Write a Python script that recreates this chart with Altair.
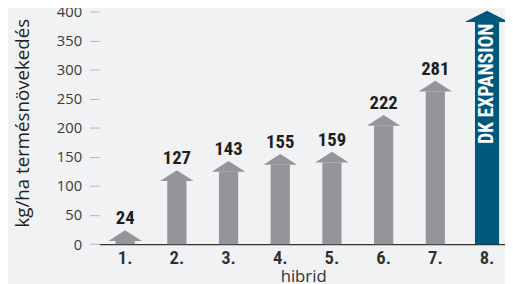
import altair as alt
import pandas as pd

hybrids = ["1.", "2.", "3.", "4.", "5.", "6.", "7.", "8."]
values = [24, 127, 143, 155, 159, 222, 281, 401]
kinds = ["gray", "gray", "gray", "gray", "gray", "gray", "gray", "dk"]
inner = ["", "", "", "", "", "", "", "DK EXPANSION"]
y_ticks = [0, 50, 100, 150, 200, 250, 300, 350, 400]

df = pd.DataFrame({"hibrid": hybrids, "v": values, "kind": kinds, "inner": inner})

NARROW = "Roboto Condensed, Liberation Sans Narrow, Roboto, sans-serif"
SANS = "Open Sans, Lato, sans-serif"
GRAY = "#939598"
DK = "#00587d"

x = alt.X(
    "hibrid:N",
    sort=hybrids,
    scale=alt.Scale(range=[0, 420], paddingInner=0, paddingOuter=0),
    axis=alt.Axis(
        title="hibrid",
        labelAngle=0,
        ticks=False,
        domainColor="#333333",
        domainWidth=1.4,
        labelFont=NARROW,
        labelFontSize=19,
        labelFontWeight=600,
        labelColor="#2e2e2e",
        labelPadding=5,
        titleFont=SANS,
        titleFontSize=17,
        titleFontWeight="normal",
        titleColor="#333333",
        titleX=207,
        titleY=24.5,
        titleBaseline="top",
    ),
)
y = alt.Y(
    "v:Q",
    scale=alt.Scale(domain=[0, 400], nice=False),
    axis=alt.Axis(
        title="kg/ha termésnövekedés",
        values=y_ticks,
        grid=False,
        domain=False,
        tickSize=10,
        tickColor="#b4b4b4",
        tickWidth=1,
        labelFont=SANS,
        labelFontSize=15,
        labelColor="#3a3a3a",
        labelPadding=8,
        titleFont=SANS,
        titleFontSize=19,
        titleFontWeight=500,
        titleColor="#222222",
        titleAngle=270,
        titleX=-77.75,
        titleY=113,
        titleAlign="center",
        titleBaseline="middle",
    ),
)

color = alt.Color("kind:N", scale=alt.Scale(domain=["gray", "dk"], range=[GRAY, DK]), legend=None)

base = alt.Chart(df)

shaft = base.mark_bar(yOffset=11).encode(
    x=x,
    y=y,
    y2=alt.datum(0),
    color=color,
    size=alt.Size("kind:N", scale=alt.Scale(domain=["gray", "dk"], range=[19.5, 24.5]), legend=None),
)

head = base.mark_point(filled=True, opacity=1, strokeWidth=0).encode(
    x=x,
    y=y,
    color=color,
    shape=alt.Shape(
        "kind:N",
        scale=alt.Scale(domain=["gray", "dk"], range=["M-1,0.647L0,0L1,0.647Z", "M-1,0.507L0,0L1,0.507Z"]),
        legend=None,
    ),
    size=alt.Size("kind:N", scale=alt.Scale(domain=["gray", "dk"], range=[1156, 2025]), legend=None),
)

labels = base.mark_text(
    font=NARROW, fontSize=19, fontWeight="bold", color="#1e1e1e", baseline="alphabetic", dy=-6
).encode(x=x, y=y, text="v:Q")

inner_text = base.transform_filter(alt.datum.inner != "").mark_text(
    font=NARROW, fontSize=20, fontWeight="bold", color="white", angle=270,
    align="right", baseline="middle", yOffset=13,
).encode(x=x, y=y, text="inner:N")

chart = (
    alt.layer(shaft, head, labels, inner_text)
    .resolve_scale(size="independent")
    .properties(
        width=412,
        height=236.4,
        autosize=alt.AutoSizeParams(type="none"),
        padding={"left": 92.75, "top": 1.3, "right": 0, "bottom": 38.3},
        background="#f1f2f4",
    )
    .configure_view(stroke=None)
)

chart.save("out.html", embed_options={"renderer": "svg", "actions": False})
